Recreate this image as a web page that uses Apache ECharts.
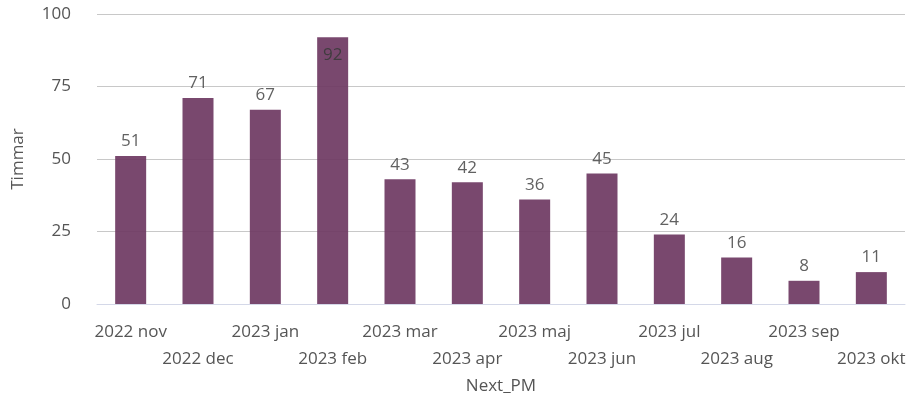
<!DOCTYPE html>
<html>
<head>
  <meta charset="utf-8">
  <title>Timmar per månad</title>
  <script src="https://cdn.jsdelivr.net/npm/echarts@6/dist/echarts.min.js"></script>
  <style>
    html, body { margin: 0; padding: 0; background: #fff; }
    #chart { width: 913px; height: 403px; }
  </style>
</head>
<body>
  <div id="chart"></div>
<script>
  const months = ['2022 nov', '2022 dec', '2023 jan', '2023 feb', '2023 mar', '2023 apr',
                  '2023 maj', '2023 jun', '2023 jul', '2023 aug', '2023 sep', '2023 okt'];
  const hours = [51, 71, 67, 92, 43, 42, 36, 45, 24, 16, 8, 11];
  const yTicks = [0, 25, 50, 75, 100];

  const chart = echarts.init(document.getElementById('chart'));
  const textColor = '#555';
  const font = 'Open Sans';

  // the tallest bar gets its label inside, like the original
  const barData = hours.map(function (v) {
    if (v > 85) return { value: v, label: { position: 'insideTop', distance: 9, color: '#3b3b3b' } };
    return v;
  });

  chart.setOption({
    animation: false,
    grid: { left: 97, right: 8, top: 14, bottom: 99 },
    xAxis: {
      type: 'category',
      data: months,
      name: 'Next_PM',
      nameLocation: 'middle',
      nameGap: 73,
      nameTextStyle: { color: textColor, fontSize: 17, fontFamily: font },
      axisLine: { lineStyle: { color: '#d4d8e8' } },
      axisTick: { alignWithLabel: true, length: 8, lineStyle: { color: '#d4d8e8' } },
      axisLabel: {
        interval: 0,
        color: textColor,
        fontSize: 17,
        fontFamily: font,
        margin: 15,
        lineHeight: 27,
        formatter: function (val, idx) { return idx % 2 ? '\n' + val : val; }
      }
    },
    yAxis: {
      type: 'value',
      min: yTicks[0],
      max: yTicks[yTicks.length - 1],
      interval: 25,
      name: 'Timmar',
      nameLocation: 'middle',
      nameGap: 70,
      nameTextStyle: { color: textColor, fontSize: 17, fontFamily: font },
      axisLabel: { color: textColor, fontSize: 17, fontFamily: font, margin: 26 },
      splitLine: { lineStyle: { color: '#c8c8c8' } }
    },
    series: [{
      type: 'bar',
      data: barData,
      barWidth: 31,
      z: 1,
      itemStyle: { color: '#6f3a63', opacity: 0.93 },
      label: {
        show: true,
        position: 'top',
        distance: 6,
        color: textColor,
        fontSize: 17,
        fontFamily: font
      }
    }]
  });
</script>
</body>
</html>
